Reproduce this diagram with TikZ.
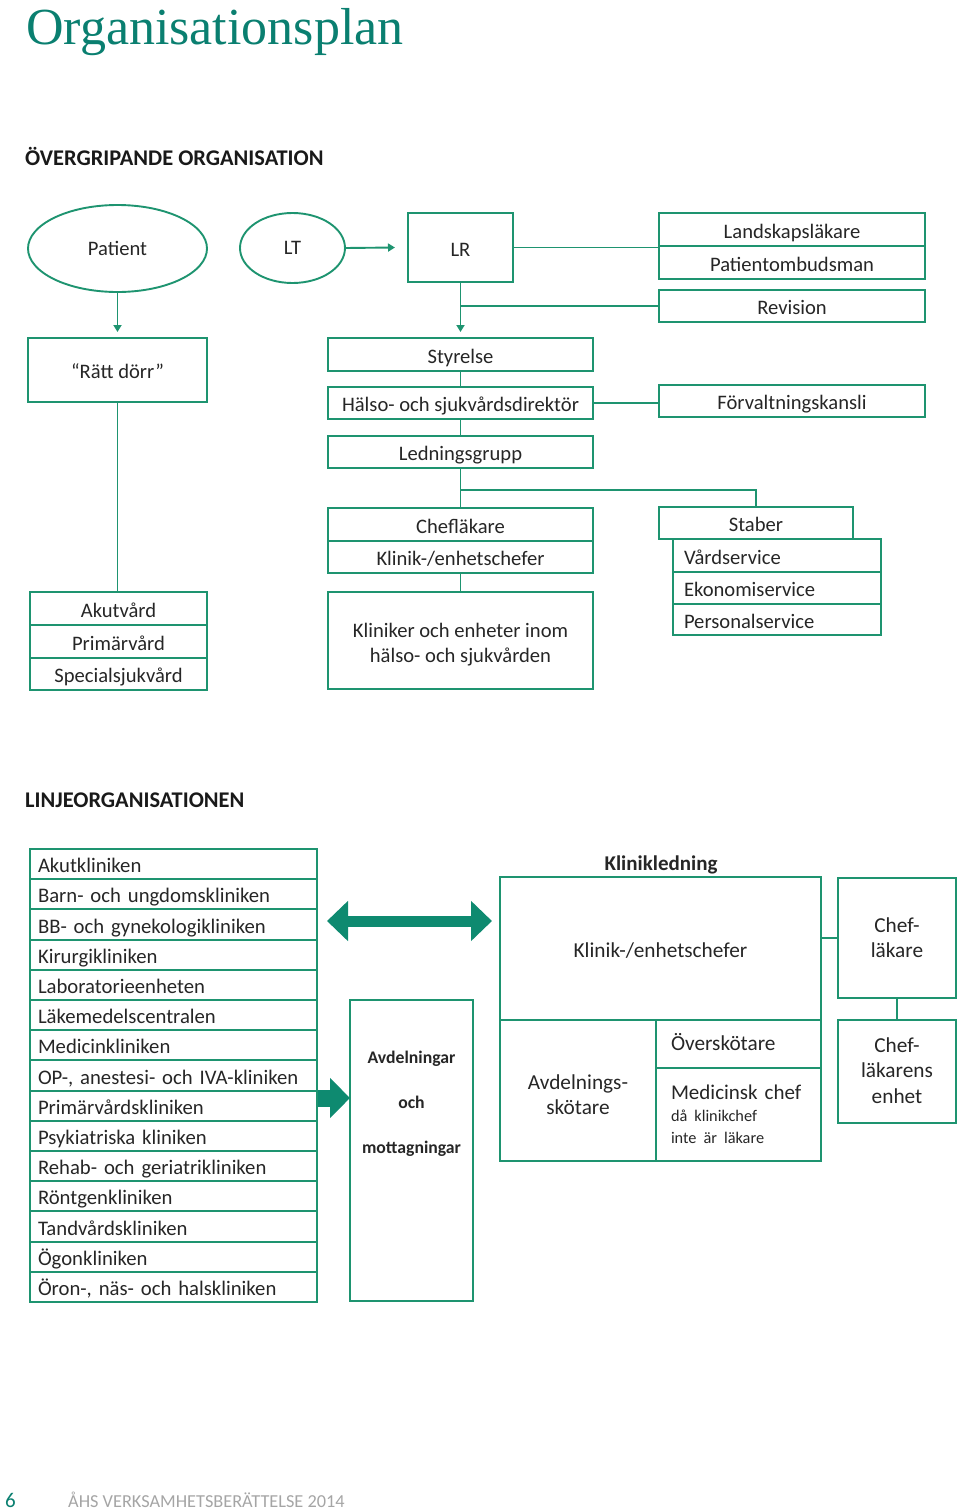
\documentclass[tikz,border=0pt]{standalone}
\usepackage{fontspec}
\setmainfont{Carlito}
\newfontfamily\titlefont{Liberation Serif}
\usetikzlibrary{arrows.meta,shapes.geometric,calc}
\definecolor{lg}{HTML}{1E9470}
\definecolor{ag}{HTML}{0E8A70}
\definecolor{tg}{HTML}{0A7F70}
\definecolor{fg}{HTML}{A5A5A5}
\newcommand{\lowerby}[2]{\raisebox{-#1}[\height][\depth]{#2}}
\tikzset{
  box/.style={draw=lg, line width=1.9pt, rectangle, inner sep=0pt, outer sep=0pt, align=center, text=black!85,
    font=\fontsize{20.6}{24.5}\selectfont},
  one/.style={text height=18pt, text depth=1pt},
  bbox/.style={box, font=\fontsize{21.3}{25.5}\selectfont},
  ell/.style={box, ellipse},
  lbox/.style={box, align=left, inner xsep=#1},
  row/.style={lbox=8pt, one, text width=271pt, minimum width=287pt, minimum height=30.2pt, font=\fontsize{20.7}{24}\selectfont},
  conn/.style={draw=lg, line width=1.9pt},
  smarrow/.style={conn, -{Triangle[width=8pt,length=7pt]}},
  bigarrow/.style={draw=ag, line width=11pt},
  hdr/.style={font=\fontsize{22.4}{26}\selectfont\bfseries, anchor=base west, inner sep=0pt, text=black!90}
}
\begin{document}
\begin{tikzpicture}[x=1pt,y=-1pt]
\useasboundingbox (0,0) rectangle (960,1510);
% titles
\node[anchor=base west, inner sep=0pt, text=tg, font=\titlefont\fontsize{52}{60}\selectfont] (title) at (26,44) {Organisationsplan};
\node[hdr] (h1) at (25,165) {ÖVERGRIPANDE ORGANISATION};
\node[hdr] (h2) at (25,807) {LINJEORGANISATIONEN};

% ---------- top part ----------
\node[ell, minimum width=179pt, minimum height=87pt] (patient) at (117.5,248.5) {Patient};
\node[ell, minimum width=105pt, minimum height=70pt] (lt) at (292.5,248) {LT};
\node[box, one, minimum width=105pt, minimum height=69pt] (lr) at (460.5,247.5) {LR};
\node[box, one, minimum width=266pt, minimum height=33pt] (land) at (792,229.5) {Landskapsläkare};
\node[box, one, minimum width=266pt, minimum height=33pt] (patom) at (792,262.5) {Patientombudsman};
\node[box, one, minimum width=266pt, minimum height=32pt] (rev) at (792,306) {Revision};
\node[box, one, minimum width=265pt, minimum height=33pt] (sty) at (460.5,354.5) {Styrelse};
\node[box, one, minimum width=265pt, minimum height=32pt] (hsd) at (460.5,403) {Hälso- och sjukvårdsdirektör};
\node[box, one, minimum width=266pt, minimum height=32pt] (forv) at (792,401) {Förvaltningskansli};
\node[box, one, minimum width=265pt, minimum height=32pt] (led) at (460.5,452) {Ledningsgrupp};
\node[box, one, minimum width=265pt, minimum height=33pt] (chef) at (460.5,524.5) {Chefläkare};
\node[box, one, minimum width=265pt, minimum height=32pt] (kle) at (460.5,557) {Klinik-/enhetschefer};
\node[box, minimum width=265pt, minimum height=97pt] (klin) at (460.5,640.5) {\lowerby{4.5pt}{\begin{tabular}{@{}c@{}}Kliniker och enheter inom\\hälso- och sjukvården\end{tabular}}};
\node[box, one, minimum width=194pt, minimum height=32pt] (stab) at (756,523) {Staber};
\node[lbox=11pt, one, text width=186pt, minimum width=208pt, minimum height=33pt] (vard) at (777,555.5) {Vårdservice};
\node[lbox=11pt, one, text width=186pt, minimum width=208pt, minimum height=32pt] (eko) at (777,588) {Ekonomiservice};
\node[lbox=11pt, one, text width=186pt, minimum width=208pt, minimum height=31pt] (pers) at (777,619.5) {Personalservice};
\node[box, one, minimum width=179pt, minimum height=64pt] (ratt) at (117.5,370) {“Rätt dörr”};
\node[box, one, minimum width=177pt, minimum height=33pt] (akut) at (118.5,608.5) {Akutvård};
\node[box, one, minimum width=177pt, minimum height=33pt] (prim) at (118.5,641.5) {Primärvård};
\node[box, one, minimum width=177pt, minimum height=32pt] (spec) at (118.5,674) {Specialsjukvård};

\draw[smarrow] (patient.south) -- ([yshift=6pt]ratt.north);
\draw[smarrow] (lt.east) -- ([xshift=-13pt]lr.west);
\draw[smarrow] (lr.south) -- ([yshift=6pt]sty.north);
\draw[conn] (lr.east) -- (lr.east -| land.west);
\draw[conn] (lr.south |- rev.west) -- (rev.west);
\draw[conn] (sty.south) -- (hsd.north);
\draw[conn] (hsd.south) -- (led.north);
\draw[conn] (hsd.east) -- (hsd.east -| forv.west);
\draw[conn] (led.south) -- (chef.north);
\coordinate (j) at (460.5,490);
\draw[conn] (j) -| (stab.north);
\draw[conn] (kle.south) -- (klin.north);
\draw[conn] (ratt.south) -- (ratt.south |- akut.north);

% ---------- bottom part ----------
\foreach \t [count=\i] in {Akutkliniken, Barn- och ungdomskliniken, BB- och gynekologikliniken, Kirurgikliniken,
  Laboratorieenheten, Läkemedelscentralen, Medicinkliniken, {OP-, anestesi- och IVA-kliniken}, Primärvårdskliniken,
  Psykiatriska kliniken, Rehab- och geriatrikliniken, Röntgenkliniken, Tandvårdskliniken, Ögonkliniken,
  {Öron-, näs- och halskliniken}}
  \node[row] (row\i) at (173.5,{849+30.2*(\i-0.5)}) {\t};

\node[box, minimum width=123pt, minimum height=301pt] (avd) at (411.5,1150.5) {};
\node[align=center, inner sep=0pt, font=\fontsize{17.7}{45}\selectfont\bfseries, text=black!85] (avdt) at (411.5,1104) {Avdelningar\\och\\mottagningar};

\node[anchor=base, inner sep=0pt, font=\fontsize{21}{24}\selectfont\bfseries, text=black!85] (kltitle) at (661,870) {Klinikledning};
\node[bbox, one, minimum width=321pt, minimum height=143pt] (kle2) at (660.5,948.5) {Klinik-/enhetschefer};
\node[bbox, minimum width=156pt, minimum height=141pt] (avs) at (578,1090.5) {\lowerby{6pt}{\begin{tabular}{@{}c@{}}Avdelnings-\\[-0.5pt]skötare\end{tabular}}};
\node[bbox, align=left, inner xsep=15pt, text width=135pt, minimum width=165pt, minimum height=48pt, text height=15pt, text depth=2pt] (ovs) at (738.5,1044) {Överskötare};
\node[bbox, align=left, inner xsep=15pt, text width=135pt, minimum width=165pt, minimum height=93pt, font=\fontsize{21}{22}\selectfont] (med) at (738.5,1114.5)
  {Medicinsk chef\\{\fontsize{16.3}{20}\selectfont då klinikchef}\\{\fontsize{16.3}{20}\selectfont inte är läkare}};
\node[bbox, minimum width=118pt, minimum height=120pt] (cl) at (897,938) {\lowerby{2pt}{\begin{tabular}{@{}c@{}}Chef-\\läkare\end{tabular}}};
\node[bbox, minimum width=118pt, minimum height=103pt, font=\fontsize{21.3}{25.5}\selectfont] (cle) at (897,1071.5) {\lowerby{1pt}{\begin{tabular}{@{}c@{}}Chef-\\läkarens\\enhet\end{tabular}}};

\draw[conn] (cl.west) -- (cl.west -| kle2.east);
\draw[conn] (cl.south) -- (cle.north);

\coordinate (dl) at (327,921);
\coordinate (dr) at (492,921);
\draw[bigarrow, {Triangle[width=39pt,length=21pt]}-{Triangle[width=39pt,length=21pt]}] (dl) -- (dr);
\coordinate (ra) at (318,1098);
\draw[bigarrow, line width=17pt, -{Triangle[width=39pt,length=20pt]}] (ra) -- (avd.west |- ra);

% footer
\node[anchor=base west, inner sep=0pt, text=tg, font=\fontsize{21}{24}\selectfont] (pg) at (5,1507) {6};
\node[anchor=base west, inner sep=0pt, text=fg, font=\fontsize{18.3}{20}\selectfont] (ft) at (68,1507) {ÅHS VERKSAMHETSBERÄTTELSE 2014};
\end{tikzpicture}
\end{document}
